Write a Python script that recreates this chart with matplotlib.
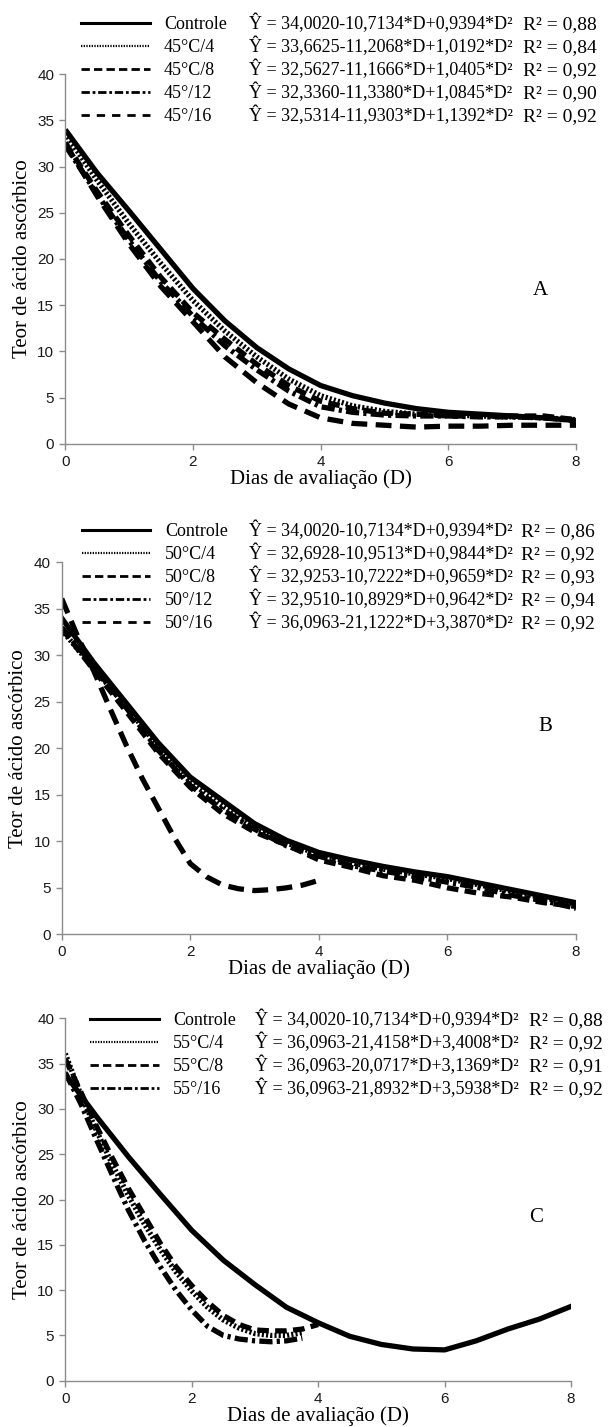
import matplotlib
matplotlib.use('Agg')
import matplotlib.pyplot as plt
from matplotlib.lines import Line2D

# ---------------- data ----------------
dias = [0, 0.5, 1, 1.5, 2, 2.5, 3, 3.5, 4, 4.5, 5, 5.5, 6, 6.5, 7, 7.5, 8]
dias_q = [0, 0.25, 0.5, 0.75, 1, 1.25, 1.5, 1.75, 2, 2.25, 2.5, 2.75, 3, 3.25, 3.5, 3.75, 4]

# Panel A
a_names = ['Controle', '45°C/4', '45°C/8', '45°/12', '45°/16']
a_eqs = ['Ŷ = 34,0020-10,7134*D+0,9394*D²', 'Ŷ = 33,6625-11,2068*D+1,0192*D²',
         'Ŷ = 32,5627-11,1666*D+1,0405*D²', 'Ŷ = 32,3360-11,3380*D+1,0845*D²',
         'Ŷ = 32,5314-11,9303*D+1,1392*D²']
a_r2 = ['R² = 0,88', 'R² = 0,84', 'R² = 0,92', 'R² = 0,90', 'R² = 0,92']
a_controle = [34.0, 29.3, 25.2, 21.0, 16.8, 13.3, 10.4, 8.1, 6.3, 5.2, 4.4, 3.8, 3.4, 3.2, 3.0, 2.8, 2.5]
a_45c4 = [33.6, 28.5, 23.8, 19.5, 15.5, 12.2, 9.4, 7.0, 5.2, 4.1, 3.5, 3.2, 3.1, 3.0, 2.9, 2.8, 2.6]
a_45c8 = [32.6, 27.3, 22.5, 18.0, 14.2, 11.3, 8.6, 6.3, 4.6, 3.8, 3.3, 3.2, 3.0, 3.0, 3.0, 3.0, 2.6]
a_45c12 = [32.3, 27.0, 22.0, 17.5, 13.8, 10.6, 8.0, 5.7, 4.0, 3.4, 3.1, 3.0, 3.0, 2.9, 2.9, 2.8, 2.5]
a_45c16 = [32.5, 26.8, 21.6, 17.0, 13.2, 9.4, 6.6, 4.3, 2.8, 2.2, 2.0, 1.8, 1.9, 1.9, 2.0, 2.0, 2.0]

# Panel B
b_names = ['Controle', '50°C/4', '50°C/8', '50°/12', '50°/16']
b_eqs = ['Ŷ = 34,0020-10,7134*D+0,9394*D²', 'Ŷ = 32,6928-10,9513*D+0,9844*D²',
         'Ŷ = 32,9253-10,7222*D+0,9659*D²', 'Ŷ = 32,9510-10,8929*D+0,9642*D²',
         'Ŷ = 36,0963-21,1222*D+3,3870*D²']
b_r2 = ['R² = 0,86', 'R² = 0,92', 'R² = 0,93', 'R² = 0,94', 'R² = 0,92']
b_controle = [34.0, 29.2, 24.9, 20.6, 16.9, 14.4, 11.9, 10.1, 8.8, 8.0, 7.3, 6.7, 6.2, 5.5, 4.8, 4.1, 3.4]
b_50c4 = [32.7, 28.6, 24.5, 20.2, 16.4, 13.8, 11.5, 9.8, 8.6, 7.7, 7.0, 6.5, 6.0, 5.3, 4.6, 3.9, 3.3]
b_50c8 = [32.9, 28.4, 24.0, 19.5, 15.8, 13.0, 11.0, 9.6, 8.0, 7.2, 6.3, 5.8, 5.0, 4.4, 4.0, 3.4, 3.0]
b_50c12 = [33.0, 28.8, 24.4, 19.8, 16.0, 13.4, 11.3, 9.5, 8.4, 7.4, 6.8, 6.2, 5.6, 5.0, 4.2, 3.6, 2.8]
b_50c16 = [36.1, 32.0, 28.3, 24.3, 20.4, 16.8, 13.6, 10.4, 7.6, 6.2, 5.3, 4.9, 4.7, 4.8, 5.0, 5.3, 5.8]

# Panel C
c_names = ['Controle', '55°C/4', '55°C/8', '55°/16']
c_eqs = ['Ŷ = 34,0020-10,7134*D+0,9394*D²', 'Ŷ = 36,0963-21,4158*D+3,4008*D²',
         'Ŷ = 36,0963-20,0717*D+3,1369*D²', 'Ŷ = 36,0963-21,8932*D+3,5938*D²']
c_r2 = ['R² = 0,88', 'R² = 0,92', 'R² = 0,91', 'R² = 0,92']
c_controle = [33.8, 29.1, 24.7, 20.6, 16.6, 13.3, 10.6, 8.1, 6.4, 4.9, 4.0, 3.5, 3.4, 4.4, 5.7, 6.8, 8.2]
c_55c4 = [36.1, 31.5, 27.5, 23.8, 20.4, 17.3, 14.5, 12.0, 9.9, 8.1, 6.7, 5.8, 5.2, 5.0, 5.0, 5.3]
c_55c8 = [35.5, 31.8, 28.0, 24.5, 21.2, 18.2, 15.2, 12.6, 10.5, 8.7, 7.2, 6.2, 5.6, 5.5, 5.5, 5.7, 6.2]
c_55c16 = [34.0, 30.5, 26.5, 22.6, 18.8, 15.5, 12.6, 10.0, 7.8, 6.0, 5.0, 4.6, 4.4, 4.3, 4.4, 4.7]

x_ticks = [0, 2, 4, 6, 8]
y_ticks = [0, 5, 10, 15, 20, 25, 30, 35, 40]

# ---------------- styles ----------------
SERIF = 'Liberation Serif'
SANS = 'Liberation Sans'
GRAY = '#8c8c8c'
LW = 3.8
LEGFS = 13
R2FS = 14
styles = {
    'solid': dict(ls='-'),
    'dotted': dict(ls=(0, (0.4, 0.4))),
    'dashed': dict(ls=(0, (2.2, 1.2))),
    'dashdot': dict(ls=(0, (2.5, 0.8, 0.6, 0.8))),
    'longdash': dict(ls=(0, (3.0, 1.6))),
}
leg_styles = {
    'solid': dict(ls='-', lw=2.2),
    'dotted': dict(ls=(0, (0.6, 0.6)), lw=1.6),
    'dashed': dict(ls=(0, (3.0, 1.5)), lw=2.0),
    'dashdot': dict(ls=(0, (3.0, 1.0, 1.0, 1.0)), lw=2.0),
    'longdash': dict(ls=(0, (3.0, 2.5)), lw=2.0),
}

W, H = 608, 1427
fig = plt.figure(figsize=(W / 100, H / 100), dpi=100)


def px_axes(left, right, top, bottom):
    return fig.add_axes([left / W, 1 - bottom / H, (right - left) / W, (bottom - top) / H])


def style_axes(ax):
    ax.set_xlim(0, 8)
    ax.set_ylim(0, 40)
    ax.set_xticks(x_ticks)
    ax.set_yticks(y_ticks)
    for s in ['top', 'right']:
        ax.spines[s].set_visible(False)
    for s in ['left', 'bottom']:
        ax.spines[s].set_color(GRAY)
        ax.spines[s].set_linewidth(1.0)
    ax.tick_params(direction='out', length=4.5, width=1.0, color=GRAY, labelsize=11, pad=3.5)
    for lab in ax.get_xticklabels() + ax.get_yticklabels():
        lab.set_fontfamily(SANS)
        lab.set_color('#1a1a1a')
    ax.set_xlabel('Dias de avaliação (D)', fontfamily=SERIF, fontsize=15, labelpad=0)
    ax.set_ylabel('Teor de ácido ascórbico', fontfamily=SERIF, fontsize=15, labelpad=4)
    ax.patch.set_alpha(0)


def add_legend(ax, names, eqs, r2s, kinds, x_line, y_top, x_eq, x_r2):
    handles = [Line2D([], [], color='black', **leg_styles[k]) for k in kinds]
    leg = ax.legend(handles, names, loc='upper left', bbox_to_anchor=(x_line / W, 1 - y_top / H),
                    bbox_transform=fig.transFigure, frameon=False,
                    prop={'family': SERIF, 'size': LEGFS}, handlelength=3.8, handletextpad=0.8,
                    labelspacing=0.33, borderpad=0, borderaxespad=0)
    fig.canvas.draw()
    r = fig.canvas.get_renderer()
    inv = fig.transFigure.inverted()
    for t, eq, r2 in zip(leg.get_texts(), eqs, r2s):
        bb = t.get_window_extent(r)
        yb = inv.transform((0, bb.y0))[1]
        fig.text(x_eq / W, yb, eq, fontfamily=SERIF, fontsize=LEGFS, va='bottom', ha='left')
        fig.text(x_r2 / W, yb, r2, fontfamily=SERIF, fontsize=R2FS, va='bottom', ha='left')


# ---------------- Panel A ----------------
axA = px_axes(65.3, 576, 74.3, 443.7)
kindsA = ['solid', 'dotted', 'dashed', 'dashdot', 'longdash']
for ys, k in zip([a_45c4, a_45c8, a_45c12, a_45c16, a_controle], kindsA[1:] + ['solid']):
    axA.plot(dias, ys, color='black', lw=LW, solid_capstyle='butt', dash_capstyle='butt', **styles[k])
style_axes(axA)
axA.text(0.93, 0.416, 'A', transform=axA.transAxes, fontfamily=SERIF, fontsize=15, ha='center', va='center')
add_legend(axA, a_names, a_eqs, a_r2, kindsA, 81, 16, 249, 523)

# ---------------- Panel B ----------------
axB = px_axes(61.7, 576, 562.3, 934.3)
kindsB = ['solid', 'dotted', 'dashed', 'dashdot', 'longdash']
axB.plot(dias, b_50c4, color='black', lw=LW, **styles['dotted'])
axB.plot(dias, b_50c8, color='black', lw=LW, **styles['dashed'])
axB.plot(dias, b_50c12, color='black', lw=LW, **styles['dashdot'])
axB.plot(dias_q, b_50c16, color='black', lw=LW, **styles['longdash'])
axB.plot(dias, b_controle, color='black', lw=LW, **styles['solid'])
style_axes(axB)
axB.text(0.94, 0.558, 'B', transform=axB.transAxes, fontfamily=SERIF, fontsize=15, ha='center', va='center')
add_legend(axB, b_names, b_eqs, b_r2, kindsB, 81.7, 523, 249, 521)

# ---------------- Panel C ----------------
axC = px_axes(65.3, 571, 1018.3, 1380.7)
kindsC = ['solid', 'dotted', 'dashed', 'dashdot']
axC.plot(dias_q[:16], c_55c4, color='black', lw=LW, **styles['dotted'])
axC.plot(dias_q, c_55c8, color='black', lw=LW, **styles['dashed'])
axC.plot(dias_q[:16], c_55c16, color='black', lw=LW, **styles['dashdot'])
axC.plot(dias, c_controle, color='black', lw=LW, **styles['solid'])
style_axes(axC)
axC.text(0.93, 0.449, 'C', transform=axC.transAxes, fontfamily=SERIF, fontsize=15, ha='center', va='center')
add_legend(axC, c_names, c_eqs, c_r2, kindsC, 90, 1012, 255, 529)

fig.savefig('out.png', dpi=100)
